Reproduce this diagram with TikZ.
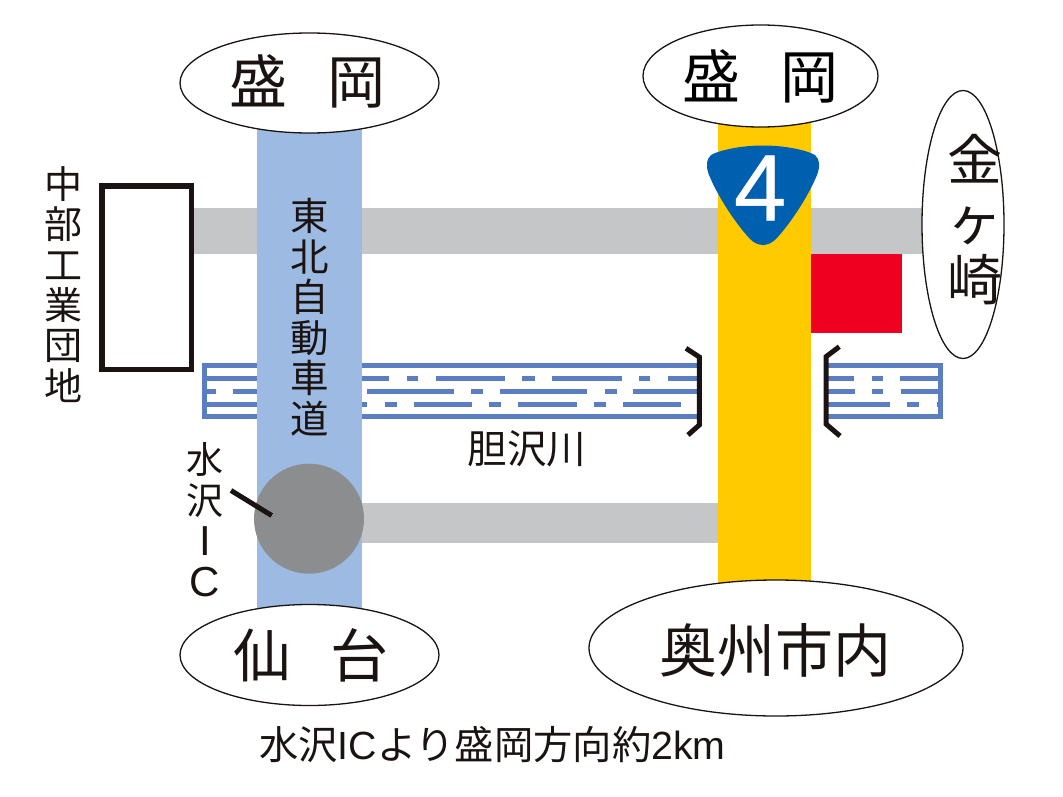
\documentclass[tikz,border=0pt]{standalone}
\usepackage{fontspec}
\setmainfont{Noto Sans CJK JP}
\newfontfamily\latinfont{Liberation Sans}
\newfontfamily\shieldfont[FakeBold=0.5]{Liberation Sans}
\usetikzlibrary{shapes.geometric}
\definecolor{inkblack}{HTML}{1A1311}
\definecolor{bandgray}{HTML}{C5C6C8}
\definecolor{motorblue}{HTML}{9DBAE3}
\definecolor{routeyellow}{HTML}{FFCB00}
\definecolor{riverblue}{HTML}{5B7DC2}
\definecolor{shieldblue}{HTML}{0060B0}
\definecolor{markred}{HTML}{F00020}
\definecolor{icgray}{HTML}{8C8D8E}
\tikzset{
	place/.style={draw=inkblack, fill=white, ellipse, line width=1.3pt, inner sep=0pt},
	tategaki/.style={inkblack, align=center, inner sep=0pt},
	riverline/.style={riverblue, line width=5pt},
	bracket/.style={inkblack, line width=5pt, miter limit=10}
}
\begin{document}
\begin{tikzpicture}[x=1pt, y=-1pt]
	\useasboundingbox (0, 0) rectangle (1063, 797);
	%%%%% ROADS %%%%%

	\fill[bandgray] (190, 207.5) rectangle (930, 254);
	\fill[bandgray] (361, 502.5) rectangle (718, 543);
	\fill[markred] (810, 254) rectangle (901.7, 332.7);

	%%%%% RIVER %%%%%

	\foreach \rowy/\segs in {378.7/{204/389,406.7/418,435.7/505,522/534.7,551.7/621.7,639/650,667.7/697},
			391.7/{204/216,233/300,366.7/454,471/483,500/587,605/617,633/697},
			404.3/{204/367,385/397,413.7/472,489/501,518/577,593.7/605.7,622.7/681},
			378.7/{828/854,871.7/883,900/940},
			391.7/{828/855,871.7/883,900.7/940},
			404.3/{828/890,907/919,936.7/940}}{
		\foreach \xa/\xb in \segs{
			\draw[riverline] (\xa, \rowy) -- (\xb, \rowy);
		}
	}
	\draw[riverline] (697, 365.5) -- (204, 365.5) -- (204, 416.7) -- (697, 416.7);
	\draw[riverline] (828, 365.5) -- (940.5, 365.5) -- (940.5, 416.7) -- (828, 416.7);

	\fill[motorblue] (257.3, 125) rectangle (361.5, 615);
	\fill[routeyellow] (718, 115) rectangle (810.7, 590);

	\draw[bracket] (686, 348.3) -- (699.3, 357) -- (699.3, 425) -- (688, 435);
	\draw[bracket] (839.3, 346.7) -- (826, 356.7) -- (826, 424) -- (840, 436);

	%%%%% IC %%%%%

	\node[circle, fill=icgray, minimum size=110pt, inner sep=0pt] (ic) at (309, 518.7) {};
	\coordinate (icend) at (271.7, 515.5);
	\coordinate (icstart) at (231, 490.5);
	\draw[inkblack, line width=5pt] (icstart) -- (icend);

	%%%%% SHIELD %%%%%

	\fill[shieldblue] (763, 145.5) .. controls (785, 145.5) and (806, 150) .. (815, 155)
		.. controls (820, 159) and (820, 168) .. (817, 175)
		.. controls (808, 197) and (790, 224) .. (776, 239)
		.. controls (768, 247) and (758, 247) .. (750, 239)
		.. controls (736, 224) and (718, 197) .. (709, 175)
		.. controls (706, 168) and (706, 159) .. (711, 155)
		.. controls (720, 150) and (741, 145.5) .. (763, 145.5) -- cycle;
	\node[white, inner sep=0pt, font=\shieldfont\fontsize{94}{94}\selectfont] (four) at (760, 188) {4};

	%%%%% PLACES %%%%%

	\node[place, minimum width=259pt, minimum height=100pt] (moriokaw) at (309.5, 83) {};
	\node[inkblack, inner sep=0pt, font=\fontsize{58}{58}\selectfont] (moriokawtext) at (307.5, 81) {盛\hspace{40pt}岡};
	\node[place, minimum width=235pt, minimum height=102pt, font=\fontsize{58}{58}\selectfont] (moriokae) at (760.5, 76) {盛\hspace{40pt}岡};
	\node[place, minimum width=259pt, minimum height=101pt] (sendai) at (309.5, 655) {};
	\node[inkblack, inner sep=0pt, font=\fontsize{58}{58}\selectfont] (sendaitext) at (311, 655) {仙\hspace{40pt}台};
	\node[place, minimum width=374pt, minimum height=136pt] (oshu) at (776, 648) {};
	\node[inkblack, inner sep=0pt, font=\fontsize{58}{58}\selectfont] (oshutext) at (775.5, 650) {奥州市内};
	\node[place, minimum width=82pt, minimum height=268pt] (kanegasaki) at (963, 224.5) {};
	\node[tategaki, font=\fontsize{55}{60}\selectfont] (kanetext) at (975, 220) {金\\ヶ\\崎};

	\draw[inkblack, fill=white, line width=5.7pt] (102.3, 186.2) rectangle (191.5, 369.5);

	%%%%% LABELS %%%%%

	\node[tategaki, font=\fontsize{38}{40.4}\selectfont] (chubu) at (63, 284.5) {中\\部\\工\\業\\団\\地};
	\node[tategaki, font=\fontsize{38.5}{40.5}\selectfont] (tohoku) at (310, 317) {東\\北\\自\\動\\車\\道};
	\node[tategaki, font=\fontsize{37}{41}\selectfont] (mizusawa) at (205, 520) {水\\沢\\{\latinfont\fontsize{42}{41}\selectfont I}\\{\latinfont\fontsize{42}{41}\selectfont C}};
	\node[inkblack, inner sep=0pt, font=\fontsize{39.5}{39.5}\selectfont] (isawa) at (527, 449) {胆沢川};
	\node[inkblack, inner sep=0pt, font=\fontsize{39.3}{39.3}\selectfont] (note) at (492.5, 745) {水沢{\latinfont IC}より盛岡方向約{\latinfont 2km}};
\end{tikzpicture}
\end{document}
